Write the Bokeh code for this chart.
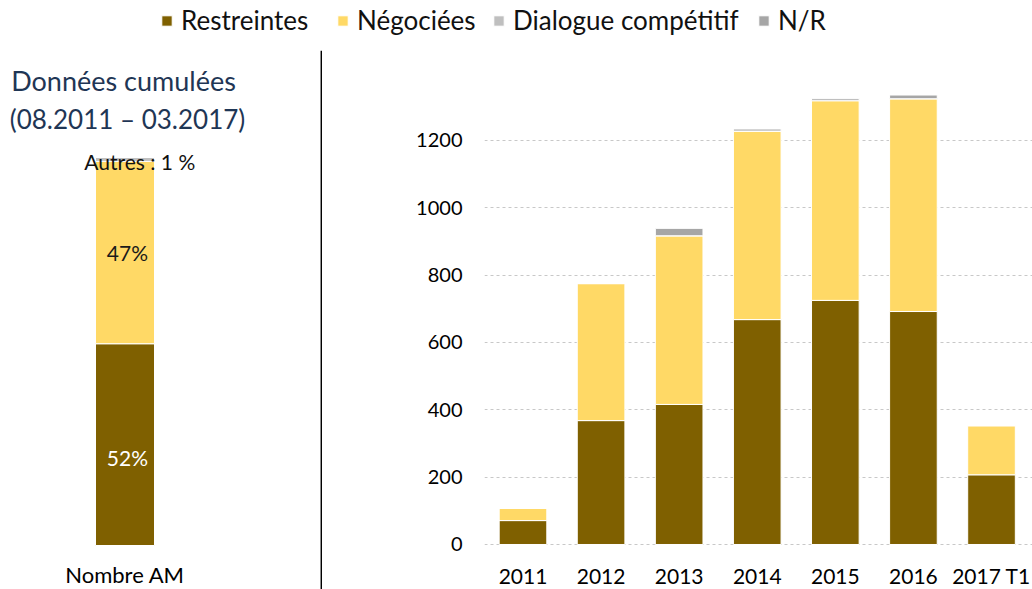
from bokeh.plotting import figure
from bokeh.models import Range1d, FixedTicker, Legend, LegendItem, ColumnDataSource, Label, Span
from bokeh.layouts import row, column
from bokeh.embed import file_html
from bokeh.resources import INLINE
from bokeh.core.properties import value

# ---------------- data ----------------
years = ["2011", "2012", "2013", "2014", "2015", "2016", "2017 T1"]
restreintes = [71, 368, 416, 668, 725, 692, 207]
negociees = [36, 407, 501, 560, 593, 632, 146]
dialogue = [0, 0, 0, 0, 8, 0, 0]
nr = [0, 0, 22, 6, 0, 11, 0]

y_ticks = [0, 200, 400, 600, 800, 1000, 1200]

left_category = ["Nombre AM"]
left_restreintes = [52]
left_negociees = [47]
left_autres = [1]

series_names = ["Restreintes", "Négociées", "Dialogue compétitif", "N/R"]
colors = ["#7f6000", "#ffd966", "#bfbfbf", "#a6a6a6"]

FONT = "Lato"
W = 1032
H_LEG = 50
H = 539


def style_axis(ax, size):
    ax.axis_line_color = None
    ax.major_tick_line_color = None
    ax.minor_tick_line_color = None
    ax.major_tick_out = 0
    ax.major_tick_in = 0
    ax.minor_tick_out = 0
    ax.minor_tick_in = 0
    ax.major_label_text_font = FONT
    ax.major_label_text_font_size = size
    ax.major_label_text_color = "#000000"


def bare(p):
    p.outline_line_color = None
    p.background_fill_color = None
    p.border_fill_color = "white"


src = ColumnDataSource(dict(x=list(range(len(years))), r=restreintes, n=negociees,
                            d=dialogue, nr=nr))

# ---------------- legend strip ----------------
# same series drawn out of view; only their legend entries are visible
pg = figure(width=W, height=H_LEG, x_range=Range1d(-100, -99), y_range=Range1d(0, 1),
            output_backend="svg", toolbar_location=None, title=None,
            x_axis_location=None, y_axis_location=None,
            min_border_left=0, min_border_right=0, min_border_top=0, min_border_bottom=0)
bare(pg)
pg.grid.visible = False
grs = pg.vbar_stack(["r", "n", "d", "nr"], x="x", width=0.61, source=src,
                    fill_color=colors, line_color="white", line_width=1)
legend_x = [160, 336, 492, 757]
for name, rnd, lx in zip(series_names, grs, legend_x):
    pg.add_layout(Legend(items=[LegendItem(label=name, renderers=[rnd])], location=(lx, 14),
                         orientation="horizontal", glyph_width=13, glyph_height=13,
                         label_standoff=8, padding=0, margin=0, border_line_color=None,
                         background_fill_alpha=0, label_text_font=FONT,
                         label_text_font_size="26px", label_text_color="#111111",
                         label_height=26))

# ---------------- left figure ----------------
pl = figure(width=322, height=H, x_range=Range1d(-2.110, 3.347), y_range=Range1d(-11.34, 127.58),
            output_backend="svg", toolbar_location=None, y_axis_location=None, title=None,
            min_border_left=0, min_border_right=0, min_border_top=0, min_border_bottom=0)
bare(pl)
pl.grid.visible = False

lsrc = ColumnDataSource(dict(x=list(range(len(left_category))),
                             r=left_restreintes, n=left_negociees, a=left_autres))
lrs = pl.vbar_stack(["r", "n", "a"], x="x", width=1.0, source=lsrc,
                    fill_color=["#7f6000", "#ffd966", "#bfbfbf"], line_color="white", line_width=1)

pl.xaxis.ticker = FixedTicker(ticks=list(range(len(left_category))))
pl.xaxis.major_label_overrides = {i: c for i, c in enumerate(left_category)}
pl.xaxis.fixed_location = 0
style_axis(pl.xaxis, "22px")
pl.xaxis.major_label_standoff = 15

mid_r = left_restreintes[0] / 2
mid_n = left_restreintes[0] + left_negociees[0] / 2
pl.text(x=[0.04, 0.04], y=[mid_r, mid_n],
        text=[f"{left_restreintes[0]}%", f"{left_negociees[0]}%"],
        text_color=["white", "#1a1a1a"], text_align="center", text_baseline="middle",
        text_font=value(FONT), text_font_size="21px", y_offset=[13, 0])

top = left_restreintes[0] + left_negociees[0] + left_autres[0]
pl.add_layout(Label(x=0.25, y=top, text=f"Autres : {left_autres[0]} %", text_align="center",
                    text_baseline="top", text_font=FONT, text_font_size="21px",
                    text_color="#111111", y_offset=9))
pl.add_layout(Label(x=-0.025, y=119.85, text="Données cumulées", text_align="center",
                    text_baseline="middle", text_font=FONT, text_font_size="27px",
                    text_color="#1f3655"))
pl.add_layout(Label(x=0.042, y=110.05, text="(08.2011 – 03.2017)", text_align="center",
                    text_baseline="middle", text_font=FONT, text_font_size="26px",
                    text_color="#1f3655"))

pl.add_layout(Span(location=3.331, dimension="height", line_color="black", line_width=2))

# ---------------- right figure ----------------
pr = figure(width=W - 322, height=H, x_range=Range1d(-0.493, 6.525),
            y_range=Range1d(-133.7, 1467.3),
            output_backend="svg", toolbar_location=None, title=None,
            min_border_left=162, min_border_right=0, min_border_top=0, min_border_bottom=0)
bare(pr)

rrs = pr.vbar_stack(["r", "n", "d", "nr"], x="x", width=0.61, source=src,
                    fill_color=colors, line_color="white", line_width=1)

pr.xgrid.visible = False
pr.ygrid.ticker = FixedTicker(ticks=y_ticks)
pr.ygrid.grid_line_color = "#c8c8c8"
pr.ygrid.grid_line_dash = "3 3"
pr.ygrid.grid_line_width = 1

pr.yaxis.ticker = FixedTicker(ticks=y_ticks)
style_axis(pr.yaxis, "20px")
pr.yaxis.major_label_standoff = 22

pr.xaxis.ticker = FixedTicker(ticks=list(range(len(years))))
pr.xaxis.major_label_overrides = {i: y for i, y in enumerate(years)}
pr.xaxis.fixed_location = 0
style_axis(pr.xaxis, "21px")
pr.xaxis.major_label_standoff = 19

layout = column(pg, row(pl, pr, spacing=0), spacing=0)
open("out.html", "w").write(file_html(layout, INLINE))
